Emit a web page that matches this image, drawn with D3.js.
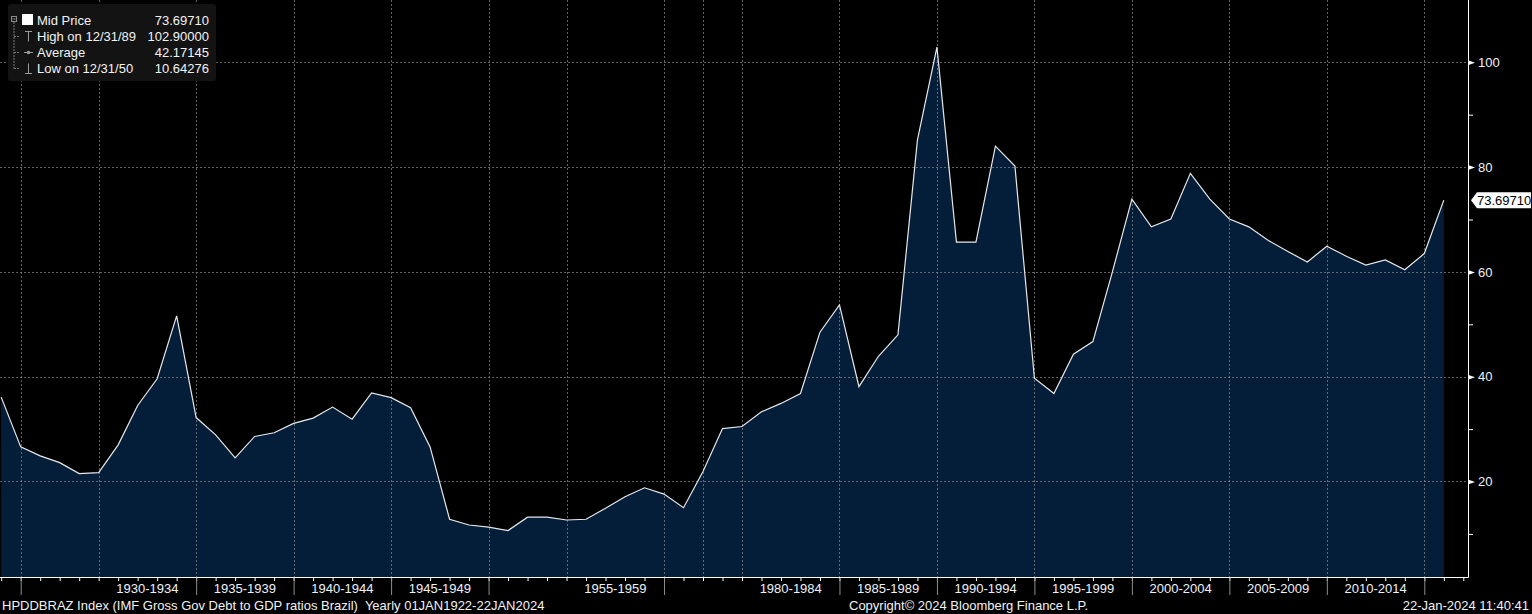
<!DOCTYPE html>
<html>
<head>
<meta charset="utf-8">
<script src="https://cdn.jsdelivr.net/npm/d3@7"></script>
<style>
  body { margin: 0; background: #000; }
  svg { display: block; font-family: "Liberation Sans", Arial, sans-serif; }
</style>
</head>
<body>
<div id="chart"></div>
<script>
// Observation years. Bloomberg gives each observation one slot, so missing years are skipped.
const years = [
  1923, 1924, 1926, 1927, 1928, 1929,
  1930, 1931, 1932, 1933, 1934, 1935, 1936, 1937, 1938, 1939,
  1940, 1941, 1942, 1943, 1944, 1945, 1946, 1947, 1948, 1949,
  1950, 1951, 1952, 1954, 1955, 1956, 1957, 1958, 1959,
  1960, 1964, 1975, 1979,
  1980, 1981, 1982, 1983, 1984, 1985, 1986, 1987, 1988, 1989,
  1990, 1991, 1992, 1993, 1994, 1995, 1996, 1997, 1998, 1999,
  2000, 2001, 2002, 2003, 2004, 2005, 2006, 2007, 2008, 2009,
  2010, 2011, 2012, 2013, 2014, 2015
];

// Gross government debt to GDP, percent.
const values = [
  36.1, 26.6, 24.9, 23.6, 21.5, 21.7,
  27.0, 34.5, 39.6, 51.6, 32.2, 28.9, 24.5, 28.6, 29.3, 31.1,
  32.1, 34.2, 31.9, 36.9, 36.0, 34.1, 26.6, 12.8, 11.7, 11.3,
  10.64276, 13.2, 13.2, 12.65, 12.8, 14.9, 17.1, 18.8, 17.6,
  15.0, 21.9, 30.1, 30.5,
  33.3, 34.9, 36.8, 48.5, 53.7, 38.1, 43.9, 48.0, 85.2, 102.9,
  65.7, 65.7, 84.0, 80.2, 39.7, 36.8, 44.3, 46.7, 60.0, 73.9,
  68.6, 70.1, 78.8, 73.9, 70.1, 68.6, 66.0, 63.9, 61.9, 64.9,
  63.0, 61.3, 62.3, 60.4, 63.5, 73.6971
];

const yTicks = [20, 40, 60, 80, 100];
const yMinorTicks = [10, 30, 50, 70, 90];

const bandLabels = [
  "1930-1934", "1935-1939", "1940-1944", "1945-1949", "1955-1959",
  "1980-1984", "1985-1989", "1990-1994", "1995-1999", "2000-2004",
  "2005-2009", "2010-2014"
];
const majorTickYears = [1924, 1934, 1939, 1944, 1949, 1959, 1984, 1989, 1994, 1999, 2004, 2009, 2014];

const legendNames = ["Mid Price", "High on 12/31/89", "Average", "Low on 12/31/50"];
const legendValues = ["73.69710", "102.90000", "42.17145", "10.64276"];
const lastLabel = "73.69710";

// Page size and plot edges.
const width = 1532;
const height = 614;
const plotRight = 1468;
const plotBottom = 577;

const svg = d3.select("#chart")
  .append("svg")
  .attr("width", width)
  .attr("height", height);

svg.append("rect").attr("width", width).attr("height", height).attr("fill", "#000");

// Scales: one slot per observation on x.
const x = d3.scaleLinear()
  .domain([0, years.length - 1])
  .range([1.2, 1443.8]);

const y = d3.scaleLinear()
  .domain([0, 100])
  .range([586.3, 62.3]);

svg.append("clipPath").attr("id", "plotclip")
  .append("rect").attr("x", 0).attr("y", 0).attr("width", plotRight).attr("height", plotBottom);

const plot = svg.append("g").attr("clip-path", "url(#plotclip)");

// Area under the line.
plot.append("path")
  .datum(values)
  .attr("fill", "#041e3a")
  .attr("d", d3.area()
    .x(function(d, i) { return x(i); })
    .y0(plotBottom)
    .y1(function(d) { return y(d); }));

// Gridlines: horizontal at labelled values, vertical where the 5-year band changes.
const gridIdx = d3.range(years.length - 1).filter(function(i) {
  return Math.floor(years[i] / 5) !== Math.floor(years[i + 1] / 5);
});

plot.selectAll(".hgrid")
  .data(yTicks)
  .enter()
  .append("line")
  .attr("x1", 0).attr("x2", plotRight)
  .attr("y1", function(d) { return Math.round(y(d)) + 0.5; })
  .attr("y2", function(d) { return Math.round(y(d)) + 0.5; })
  .attr("stroke", "#8a8a8a").attr("stroke-opacity", 0.7)
  .attr("stroke-dasharray", "2,2");

plot.selectAll(".vgrid")
  .data(gridIdx)
  .enter()
  .append("line")
  .attr("x1", function(i) { return Math.round(x(i)) + 0.5; })
  .attr("x2", function(i) { return Math.round(x(i)) + 0.5; })
  .attr("y1", 0).attr("y2", plotBottom)
  .attr("stroke", "#8a8a8a").attr("stroke-opacity", 0.7)
  .attr("stroke-dasharray", "2,2");

// The line itself.
plot.append("path")
  .datum(values)
  .attr("fill", "none")
  .attr("stroke", "#e8e8e8")
  .attr("stroke-width", 1.2)
  .attr("d", d3.line()
    .x(function(d, i) { return x(i); })
    .y(function(d) { return y(d); }));

// Bottom axis: a short tick for each slot, a long grey tick at band ends.
const minorX = svg.append("g")
  .attr("transform", "translate(0," + plotBottom + ")")
  .call(d3.axisBottom(x).tickValues(d3.range(0, years.length + 1)).tickSize(4).tickFormat(""));
minorX.select(".domain").remove();
minorX.selectAll("line").attr("stroke", "#fff");

const majorX = svg.append("g")
  .attr("transform", "translate(0," + plotBottom + ")")
  .call(d3.axisBottom(x)
    .tickValues(majorTickYears.map(function(yr) { return years.indexOf(yr); }))
    .tickSize(18).tickFormat(""));
majorX.select(".domain").remove();
majorX.selectAll("line").attr("stroke", "#8c8c8c");

// Band labels centred between the band's boundaries.
svg.selectAll(".band")
  .data(bandLabels)
  .enter()
  .append("text")
  .attr("x", function(d) {
    const a = +d.slice(0, 4), b = +d.slice(5);
    const left = d3.bisectLeft(years, a) - 1;
    const right = years.indexOf(b);
    return (x(left) + x(right)) / 2;
  })
  .attr("y", 593)
  .attr("text-anchor", "middle")
  .attr("fill", "#eef2f7")
  .attr("font-size", 13)
  .text(function(d) { return d; });

// Axis frame lines.
svg.append("line")
  .attr("x1", 0).attr("x2", plotRight + 0.5)
  .attr("y1", plotBottom + 0.5).attr("y2", plotBottom + 0.5)
  .attr("stroke", "#fff");
svg.append("line")
  .attr("x1", plotRight + 0.5).attr("x2", plotRight + 0.5)
  .attr("y1", 0).attr("y2", plotBottom + 0.5)
  .attr("stroke", "#fff");

// Right axis.
const minorY = svg.append("g")
  .attr("transform", "translate(" + plotRight + ",0)")
  .call(d3.axisRight(y).tickValues(yMinorTicks).tickSize(5).tickFormat(""));
minorY.select(".domain").remove();
minorY.selectAll("line").attr("stroke", "#fff");

const majorY = svg.append("g")
  .attr("transform", "translate(" + plotRight + ",0)")
  .call(d3.axisRight(y).tickValues(yTicks).tickSize(0).tickPadding(10));
majorY.select(".domain").remove();
majorY.selectAll("text")
  .attr("fill", "#f2f2f2")
  .attr("font-size", 13)
  .attr("font-family", "Liberation Sans, Arial, sans-serif");
majorY.selectAll(".tick").append("path")
  .attr("d", "M0,-2.5L7,0L0,2.5Z")
  .attr("fill", "#fff");

// Last value callout.
const cy = y(values[values.length - 1]);
svg.append("path")
  .attr("d", "M1471," + cy + "L1477," + (cy - 8) + "L1531," + (cy - 8) + "L1531," + (cy + 8) + "L1477," + (cy + 8) + "Z")
  .attr("fill", "#fff");
svg.append("text")
  .attr("x", 1477).attr("y", cy + 4.5)
  .attr("fill", "#000")
  .attr("font-size", 13)
  .text(lastLabel);

// Legend box.
const legend = svg.append("g");
legend.append("rect")
  .attr("x", 8).attr("y", 4).attr("width", 208).attr("height", 77).attr("rx", 3)
  .attr("fill", "#131313");

const rowY = [20.5, 36.5, 52.5, 68.5];

// Tree lines and icons.
legend.append("rect").attr("x", 11.5).attr("y", 16.5).attr("width", 5).attr("height", 5)
  .attr("fill", "none").attr("stroke", "#8a8a8a");
legend.append("line").attr("x1", 12.5).attr("x2", 15.5).attr("y1", 19).attr("y2", 19).attr("stroke", "#8a8a8a");
legend.append("line").attr("x1", 14).attr("x2", 14).attr("y1", 22).attr("y2", rowY[3])
  .attr("stroke", "#7a7a7a").attr("stroke-dasharray", "2,1");
rowY.slice(1).forEach(function(ry) {
  legend.append("line").attr("x1", 14).attr("x2", 20).attr("y1", ry).attr("y2", ry)
    .attr("stroke", "#7a7a7a").attr("stroke-dasharray", "2,1");
});
legend.append("rect").attr("x", 22).attr("y", 14).attr("width", 11).attr("height", 11).attr("fill", "#fff");
// high marker
legend.append("path").attr("d", "M25," + (rowY[1] - 5) + "H32M28.5," + (rowY[1] - 5) + "V" + (rowY[1] + 5))
  .attr("stroke", "#9a9a9a").attr("fill", "none");
// average marker
legend.append("path").attr("d", "M24," + rowY[2] + "H33").attr("stroke", "#9a9a9a");
legend.append("circle").attr("cx", 28.5).attr("cy", rowY[2]).attr("r", 1.8).attr("fill", "#9a9a9a");
// low marker
legend.append("path").attr("d", "M25," + (rowY[3] + 5) + "H32M28.5," + (rowY[3] + 5) + "V" + (rowY[3] - 5))
  .attr("stroke", "#9a9a9a").attr("fill", "none");

legend.selectAll(".lname")
  .data(legendNames)
  .enter()
  .append("text")
  .attr("x", 37)
  .attr("y", function(d, i) { return rowY[i] + 4.5; })
  .attr("fill", "#f2f2f2")
  .attr("font-size", 13)
  .text(function(d) { return d; });

legend.selectAll(".lval")
  .data(legendValues)
  .enter()
  .append("text")
  .attr("x", 209)
  .attr("y", function(d, i) { return rowY[i] + 4.5; })
  .attr("text-anchor", "end")
  .attr("fill", "#f2f2f2")
  .attr("font-size", 13)
  .text(function(d) { return d; });

// Footer.
svg.append("text")
  .attr("x", 2).attr("y", 610)
  .attr("fill", "#f2f2f2").attr("font-size", 13)
  .attr("xml:space", "preserve")
  .text("HPDDBRAZ Index (IMF Gross Gov Debt to GDP ratios Brazil)  Yearly 01JAN1922-22JAN2024");
svg.append("text")
  .attr("x", 849).attr("y", 610)
  .attr("fill", "#f2f2f2").attr("font-size", 13)
  .text("Copyright\u00a9 2024 Bloomberg Finance L.P.");
svg.append("text")
  .attr("x", 1529).attr("y", 610)
  .attr("text-anchor", "end")
  .attr("fill", "#f2f2f2").attr("font-size", 13)
  .text("22-Jan-2024 11:40:41");
</script>
</body>
</html>
